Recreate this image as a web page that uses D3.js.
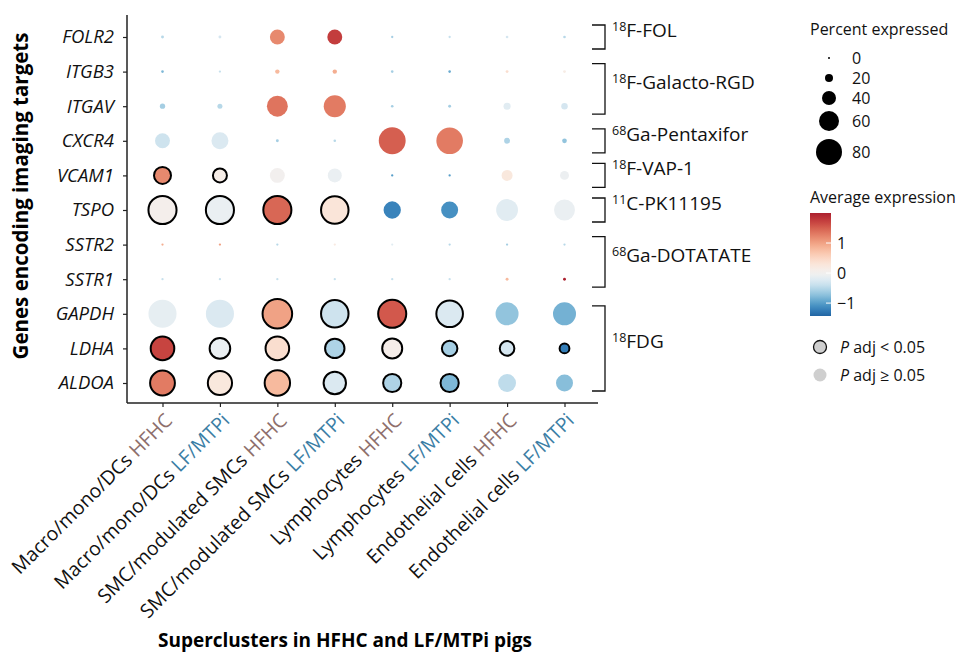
<!DOCTYPE html>
<html>
<head>
<meta charset="utf-8">
<script src="https://cdn.jsdelivr.net/npm/d3@7"></script>
<style>
  body { margin: 0; background: #fff; }
  text { font-family: "Open Sans", "Noto Sans", sans-serif; }
</style>
</head>
<body>
<div id="chart"></div>
<script>
// cell groups along x
const clusters = ["Macro/mono/DCs", "Macro/mono/DCs", "SMC/modulated SMCs", "SMC/modulated SMCs",
                  "Lymphocytes", "Lymphocytes", "Endothelial cells", "Endothelial cells"]
const diets = ["HFHC", "LF/MTPi", "HFHC", "LF/MTPi", "HFHC", "LF/MTPi", "HFHC", "LF/MTPi"]
const genes = ["FOLR2", "ITGB3", "ITGAV", "CXCR4", "VCAM1", "TSPO", "SSTR2", "SSTR1", "GAPDH", "LDHA", "ALDOA"]

// percent expressed, one row per gene
const pctExpr = [
  [3, 3, 43, 43, 1, 1, 2, 2],
  [2, 1, 8, 8, 2, 2, 3, 3],
  [11, 10, 63, 67, 2, 3, 17, 15],
  [43, 50, 3, 2, 83, 82, 13, 9],
  [50, 40, 43, 40, 1, 1, 30, 23],
  [87, 87, 87, 85, 51, 50, 66, 63],
  [1, 1, 1, 1, 0.5, 1, 1, 1],
  [1, 1, 1, 1, 1, 1, 3, 3],
  [87, 87, 92, 85, 87, 82, 70, 70],
  [72, 62, 72, 58, 60, 45, 42, 26],
  [76, 74, 78, 68, 54, 54, 53, 50]
]
// average expression (scaled)
const avgExpr = [
  [-0.5, -0.3, 1.2, 1.75, -0.6, -0.4, -0.3, -0.5],
  [-0.8, -0.4, 0.8, 0.9, -0.6, -0.9, 0.4, 0.15],
  [-0.6, -0.5, 1.35, 1.3, -0.6, -0.6, -0.2, -0.3],
  [-0.35, -0.25, -0.6, -0.5, 1.5, 1.3, -0.55, -0.7],
  [1.2, 0.12, 0.0, -0.1, -1.0, -1.0, 0.25, -0.08],
  [0.06, -0.1, 1.45, 0.3, -1.2, -1.1, -0.2, -0.1],
  [0.9, 1.0, -0.5, 0.2, -0.2, -0.5, -0.6, -0.5],
  [-0.4, -0.4, -0.4, -0.4, -0.4, -0.4, 0.8, 2.0],
  [-0.15, -0.25, 1.0, -0.35, 1.55, -0.25, -0.7, -0.85],
  [1.7, -0.1, 0.4, -0.55, 0.1, -0.6, -0.3, -1.25],
  [1.3, 0.25, 0.8, -0.25, -0.55, -0.8, -0.45, -0.75]
]
// 1 = P adj < 0.05
const signif = [
  [0, 0, 0, 0, 0, 0, 0, 0],
  [0, 0, 0, 0, 0, 0, 0, 0],
  [0, 0, 0, 0, 0, 0, 0, 0],
  [0, 0, 0, 0, 0, 0, 0, 0],
  [1, 1, 0, 0, 0, 0, 0, 0],
  [1, 1, 1, 1, 0, 0, 0, 0],
  [0, 0, 0, 0, 0, 0, 0, 0],
  [0, 0, 0, 0, 0, 0, 0, 0],
  [0, 0, 1, 1, 1, 1, 0, 0],
  [1, 1, 1, 1, 1, 1, 1, 1],
  [1, 1, 1, 1, 1, 1, 0, 0]
]
// tracer brackets: [label superscript, label rest, first gene, last gene]
const tracers = [
  ["18", "F-FOL", "FOLR2", "FOLR2"],
  ["18", "F-Galacto-RGD", "ITGB3", "ITGAV"],
  ["68", "Ga-Pentaxifor", "CXCR4", "CXCR4"],
  ["18", "F-VAP-1", "VCAM1", "VCAM1"],
  ["11", "C-PK11195", "TSPO", "TSPO"],
  ["68", "Ga-DOTATATE", "SSTR2", "SSTR1"],
  ["18", "FDG", "GAPDH", "ALDOA"]
]
const sizeBreaks = [0, 20, 40, 60, 80]
const colorTicks = [1, 0, -1]
const colorDomain = [-1.43, 2.0]

const dietColor = {"HFHC": "#8e6f6c", "LF/MTPi": "#3b7ea5"}

const svg = d3.select("#chart").append("svg").attr("width", 965).attr("height", 655)

const x = d3.scalePoint().domain(d3.range(8)).range([162.5, 564.5])
const y = d3.scalePoint().domain(genes).range([37, 383])
const r = d3.scaleLinear().domain([0, 80]).range([1, 13])
const color = d3.scaleDiverging()
  .domain([colorDomain[0], 0, colorDomain[1]])
  .interpolator(t => d3.interpolateRdBu(0.9 - 0.8 * t))

function translate(a, b) { return `translate(${a}, ${b})` }

// axes
const axisX0 = 127, axisY0 = 403
const yAxis = d3.axisLeft(y).tickSize(4).tickPadding(9)
const gy = svg.append("g").attr("transform", translate(axisX0, 0)).call(yAxis)
gy.select(".domain").attr("d", `M0,15V${axisY0}`)
gy.selectAll("text").attr("font-size", 18.5).attr("font-style", "italic").attr("fill", "#111")

const xAxis = d3.axisBottom(x).tickSize(4).tickFormat("")
const gx = svg.append("g").attr("transform", translate(0, axisY0)).call(xAxis)
gx.select(".domain").attr("d", `M${axisX0},0H598`)
svg.selectAll(".domain").attr("stroke", "#222").attr("stroke-width", 1.5)
svg.selectAll(".tick line").attr("stroke", "#222").attr("stroke-width", 1.2)

// x labels, rotated
const xl = svg.append("g").selectAll("text").data(d3.range(8)).enter().append("text")
  .attr("transform", d => translate(x(d) + 6, 417) + " rotate(-45)")
  .attr("text-anchor", "end")
  .attr("dy", "0.35em")
  .attr("font-size", 19.5)
xl.append("tspan").attr("fill", "#111").text(d => clusters[d] + " ")
xl.append("tspan").attr("fill", d => dietColor[diets[d]]).text(d => diets[d])

// axis titles
svg.append("text").attr("transform", translate(28, 196) + " rotate(-90)")
  .attr("text-anchor", "middle").attr("font-weight", "bold").attr("font-size", 20.5)
  .text("Genes encoding imaging targets")
svg.append("text").attr("x", 345).attr("y", 647)
  .attr("text-anchor", "middle").attr("font-weight", "bold").attr("font-size", 19)
  .text("Superclusters in HFHC and LF/MTPi pigs")

// dots
const cells = []
genes.forEach((g, i) => {
  d3.range(8).forEach(j => {
    cells.push({gene: g, col: j, pct: pctExpr[i][j], avg: avgExpr[i][j], sig: signif[i][j]})
  })
})
svg.append("g").selectAll("circle").data(cells).enter().append("circle")
  .attr("cx", d => x(d.col))
  .attr("cy", d => y(d.gene))
  .attr("r", d => r(d.pct))
  .attr("fill", d => color(d.avg))
  .attr("stroke", d => d.sig ? "#000" : "none")
  .attr("stroke-width", 2)

// tracer brackets
const br = svg.append("g")
tracers.forEach(t => {
  const pad = t[2] == t[3] ? 12 : 8
  const y1 = y(t[2]) - pad, y2 = y(t[3]) + pad
  br.append("path").attr("d", `M592,${y1}H605V${y2}H592`)
    .attr("fill", "none").attr("stroke", "#111").attr("stroke-width", 1.3)
  const lab = br.append("text").attr("x", 612).attr("y", (y1 + y2) / 2).attr("dy", "0.35em")
    .attr("font-size", 19).attr("fill", "#111")
  lab.append("tspan").attr("font-size", 12.5).attr("dy", "-0.5em").text(t[0])
  lab.append("tspan").attr("dy", "0.33em").text(t[1])
})

// size legend
const lg = svg.append("g")
lg.append("text").attr("x", 810).attr("y", 35).attr("font-size", 16).attr("fill", "#111").text("Percent expressed")
const sizeY = [58, 78, 98, 121, 152]
sizeBreaks.forEach((s, i) => {
  lg.append("circle").attr("cx", 829).attr("cy", sizeY[i]).attr("r", r(s)).attr("fill", "#000")
  lg.append("text").attr("x", 852).attr("y", sizeY[i]).attr("dy", "0.35em")
    .attr("font-size", 16).attr("fill", "#111").text(s)
})

// color legend
lg.append("text").attr("x", 810).attr("y", 203).attr("font-size", 16).attr("fill", "#111").text("Average expression")
const cbTop = 213, cbBot = 316
const cy = d3.scaleLinear().domain(colorDomain).range([cbBot, cbTop])
const grad = svg.append("defs").append("linearGradient").attr("id", "cbar")
  .attr("x1", 0).attr("y1", 1).attr("x2", 0).attr("y2", 0)
d3.range(0, 1.001, 0.05).forEach(t => {
  grad.append("stop").attr("offset", t)
    .attr("stop-color", color(colorDomain[0] + t * (colorDomain[1] - colorDomain[0])))
})
lg.append("rect").attr("x", 810).attr("y", cbTop).attr("width", 21).attr("height", cbBot - cbTop)
  .attr("fill", "url(#cbar)")
colorTicks.forEach(v => {
  lg.append("line").attr("x1", 826).attr("x2", 831).attr("y1", cy(v)).attr("y2", cy(v))
    .attr("stroke", "#fff").attr("stroke-width", 1)
  lg.append("text").attr("x", 837).attr("y", cy(v)).attr("dy", "0.35em")
    .attr("font-size", 16).attr("fill", "#111").text(v < 0 ? "\u2212" + Math.abs(v) : v)
})

// significance legend
const sigRows = [["<", 347, true], ["\u2265", 375, false]]
sigRows.forEach(s => {
  lg.append("circle").attr("cx", 820).attr("cy", s[1]).attr("r", 6.5).attr("fill", "#cfcfcf")
    .attr("stroke", s[2] ? "#111" : "none").attr("stroke-width", 1.3)
  const t = lg.append("text").attr("x", 840).attr("y", s[1]).attr("dy", "0.35em")
    .attr("font-size", 16).attr("fill", "#111")
  t.append("tspan").attr("font-style", "italic").text("P")
  t.append("tspan").text(" adj " + s[0] + " 0.05")
})
</script>
</body>
</html>
